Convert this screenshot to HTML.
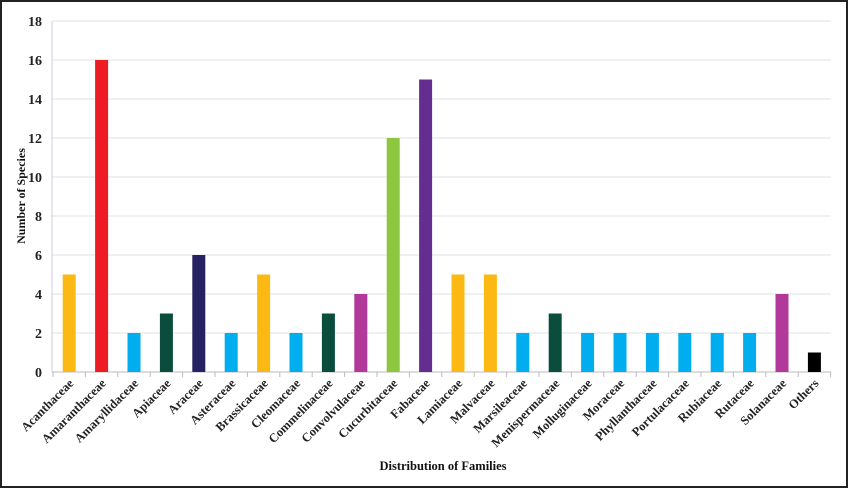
<!DOCTYPE html>
<html><head><meta charset="utf-8"><style>
html,body{margin:0;padding:0;background:#fff;}
svg{display:block;font-family:"Liberation Serif",serif;font-weight:bold;}
</style></head><body>
<svg width="848" height="488" viewBox="0 0 848 488" xmlns="http://www.w3.org/2000/svg">
<rect x="1" y="1" width="846" height="486" fill="#fff" stroke="#222" stroke-width="2"/>
<g stroke="#dde3e8" stroke-width="1">
<line x1="52" x2="831" y1="21" y2="21"/><line x1="52" x2="831" y1="60" y2="60"/>
<line x1="52" x2="831" y1="99" y2="99"/><line x1="52" x2="831" y1="138" y2="138"/>
<line x1="52" x2="831" y1="177" y2="177"/><line x1="52" x2="831" y1="216" y2="216"/>
<line x1="52" x2="831" y1="255" y2="255"/><line x1="52" x2="831" y1="294" y2="294"/>
<line x1="52" x2="831" y1="333" y2="333"/>
</g>
<line x1="52" x2="52" y1="21" y2="372" stroke="#ccd"/>
<line x1="52" x2="831" y1="372" y2="372" stroke="#bbb"/>
<g font-size="14" text-anchor="end" fill="#222">
<text x="42" y="26">18</text><text x="42" y="65">16</text><text x="42" y="104">14</text>
<text x="42" y="143">12</text><text x="42" y="182">10</text><text x="42" y="221">8</text>
<text x="42" y="260">6</text><text x="42" y="299">4</text><text x="42" y="338">2</text>
<text x="42" y="377">0</text>
</g>
<g>
<rect x="62.7" y="274.5" width="13" height="97.5" fill="#FDB913"/>
<rect x="95.1" y="60" width="13" height="312" fill="#ED1C24"/>
<rect x="127.5" y="333" width="13" height="39" fill="#00AEEF"/>
<rect x="159.9" y="313.5" width="13" height="58.5" fill="#0B4D3C"/>
<rect x="192.3" y="255" width="13" height="117" fill="#262262"/>
<rect x="224.7" y="333" width="13" height="39" fill="#00AEEF"/>
<rect x="257.1" y="274.5" width="13" height="97.5" fill="#FDB913"/>
<rect x="289.5" y="333" width="13" height="39" fill="#00AEEF"/>
<rect x="321.9" y="313.5" width="13" height="58.5" fill="#0B4D3C"/>
<rect x="354.3" y="294" width="13" height="78" fill="#B2399A"/>
<rect x="386.7" y="138" width="13" height="234" fill="#8DC63F"/>
<rect x="419.1" y="79.5" width="13" height="292.5" fill="#662D91"/>
<rect x="451.5" y="274.5" width="13" height="97.5" fill="#FDB913"/>
<rect x="483.9" y="274.5" width="13" height="97.5" fill="#FDB913"/>
<rect x="516.3" y="333" width="13" height="39" fill="#00AEEF"/>
<rect x="548.7" y="313.5" width="13" height="58.5" fill="#0B4D3C"/>
<rect x="581.1" y="333" width="13" height="39" fill="#00AEEF"/>
<rect x="613.5" y="333" width="13" height="39" fill="#00AEEF"/>
<rect x="645.9" y="333" width="13" height="39" fill="#00AEEF"/>
<rect x="678.3" y="333" width="13" height="39" fill="#00AEEF"/>
<rect x="710.7" y="333" width="13" height="39" fill="#00AEEF"/>
<rect x="743.1" y="333" width="13" height="39" fill="#00AEEF"/>
<rect x="775.5" y="294" width="13" height="78" fill="#B2399A"/>
<rect x="807.9" y="352.5" width="13" height="19.5" fill="#000"/>
</g>
<g stroke="#bbb">
<path d="M53 372v5M85.4 372v5M117.8 372v5M150.2 372v5M182.6 372v5M215 372v5M247.4 372v5M279.8 372v5M312.2 372v5M344.6 372v5M377 372v5M409.4 372v5M441.8 372v5M474.2 372v5M506.6 372v5M539 372v5M571.4 372v5M603.8 372v5M636.2 372v5M668.6 372v5M701 372v5M733.4 372v5M765.8 372v5M798.2 372v5M830.6 372v5"/>
</g>
<g font-size="12.5" fill="#222" text-anchor="end">
<text x="74.2" y="384" transform="rotate(-45 74.2 384)">Acanthaceae</text>
<text x="106.6" y="384" transform="rotate(-45 106.6 384)">Amaranthaceae</text>
<text x="139" y="384" transform="rotate(-45 139 384)">Amaryllidaceae</text>
<text x="171.4" y="384" transform="rotate(-45 171.4 384)">Apiaceae</text>
<text x="203.8" y="384" transform="rotate(-45 203.8 384)">Araceae</text>
<text x="236.2" y="384" transform="rotate(-45 236.2 384)">Asteraceae</text>
<text x="268.6" y="384" transform="rotate(-45 268.6 384)">Brassicaceae</text>
<text x="301" y="384" transform="rotate(-45 301 384)">Cleomaceae</text>
<text x="333.4" y="384" transform="rotate(-45 333.4 384)">Commelinaceae</text>
<text x="365.8" y="384" transform="rotate(-45 365.8 384)">Convolvulaceae</text>
<text x="398.2" y="384" transform="rotate(-45 398.2 384)">Cucurbitaceae</text>
<text x="430.6" y="384" transform="rotate(-45 430.6 384)">Fabaceae</text>
<text x="463" y="384" transform="rotate(-45 463 384)">Lamiaceae</text>
<text x="495.4" y="384" transform="rotate(-45 495.4 384)">Malvaceae</text>
<text x="527.8" y="384" transform="rotate(-45 527.8 384)">Marsileaceae</text>
<text x="560.2" y="384" transform="rotate(-45 560.2 384)">Menispermaceae</text>
<text x="592.6" y="384" transform="rotate(-45 592.6 384)">Molluginaceae</text>
<text x="625" y="384" transform="rotate(-45 625 384)">Moraceae</text>
<text x="657.4" y="384" transform="rotate(-45 657.4 384)">Phyllanthaceae</text>
<text x="689.8" y="384" transform="rotate(-45 689.8 384)">Portulacaceae</text>
<text x="722.2" y="384" transform="rotate(-45 722.2 384)">Rubiaceae</text>
<text x="754.6" y="384" transform="rotate(-45 754.6 384)">Rutaceae</text>
<text x="787" y="384" transform="rotate(-45 787 384)">Solanaceae</text>
<text x="819.4" y="384" transform="rotate(-45 819.4 384)">Others</text>
</g>
<text x="25" y="196" font-size="12" text-anchor="middle" transform="rotate(-90 25 196)" fill="#111">Number of Species</text>
<text x="443" y="470" font-size="12.5" text-anchor="middle" fill="#111">Distribution of Families</text>
</svg>
</body></html>
